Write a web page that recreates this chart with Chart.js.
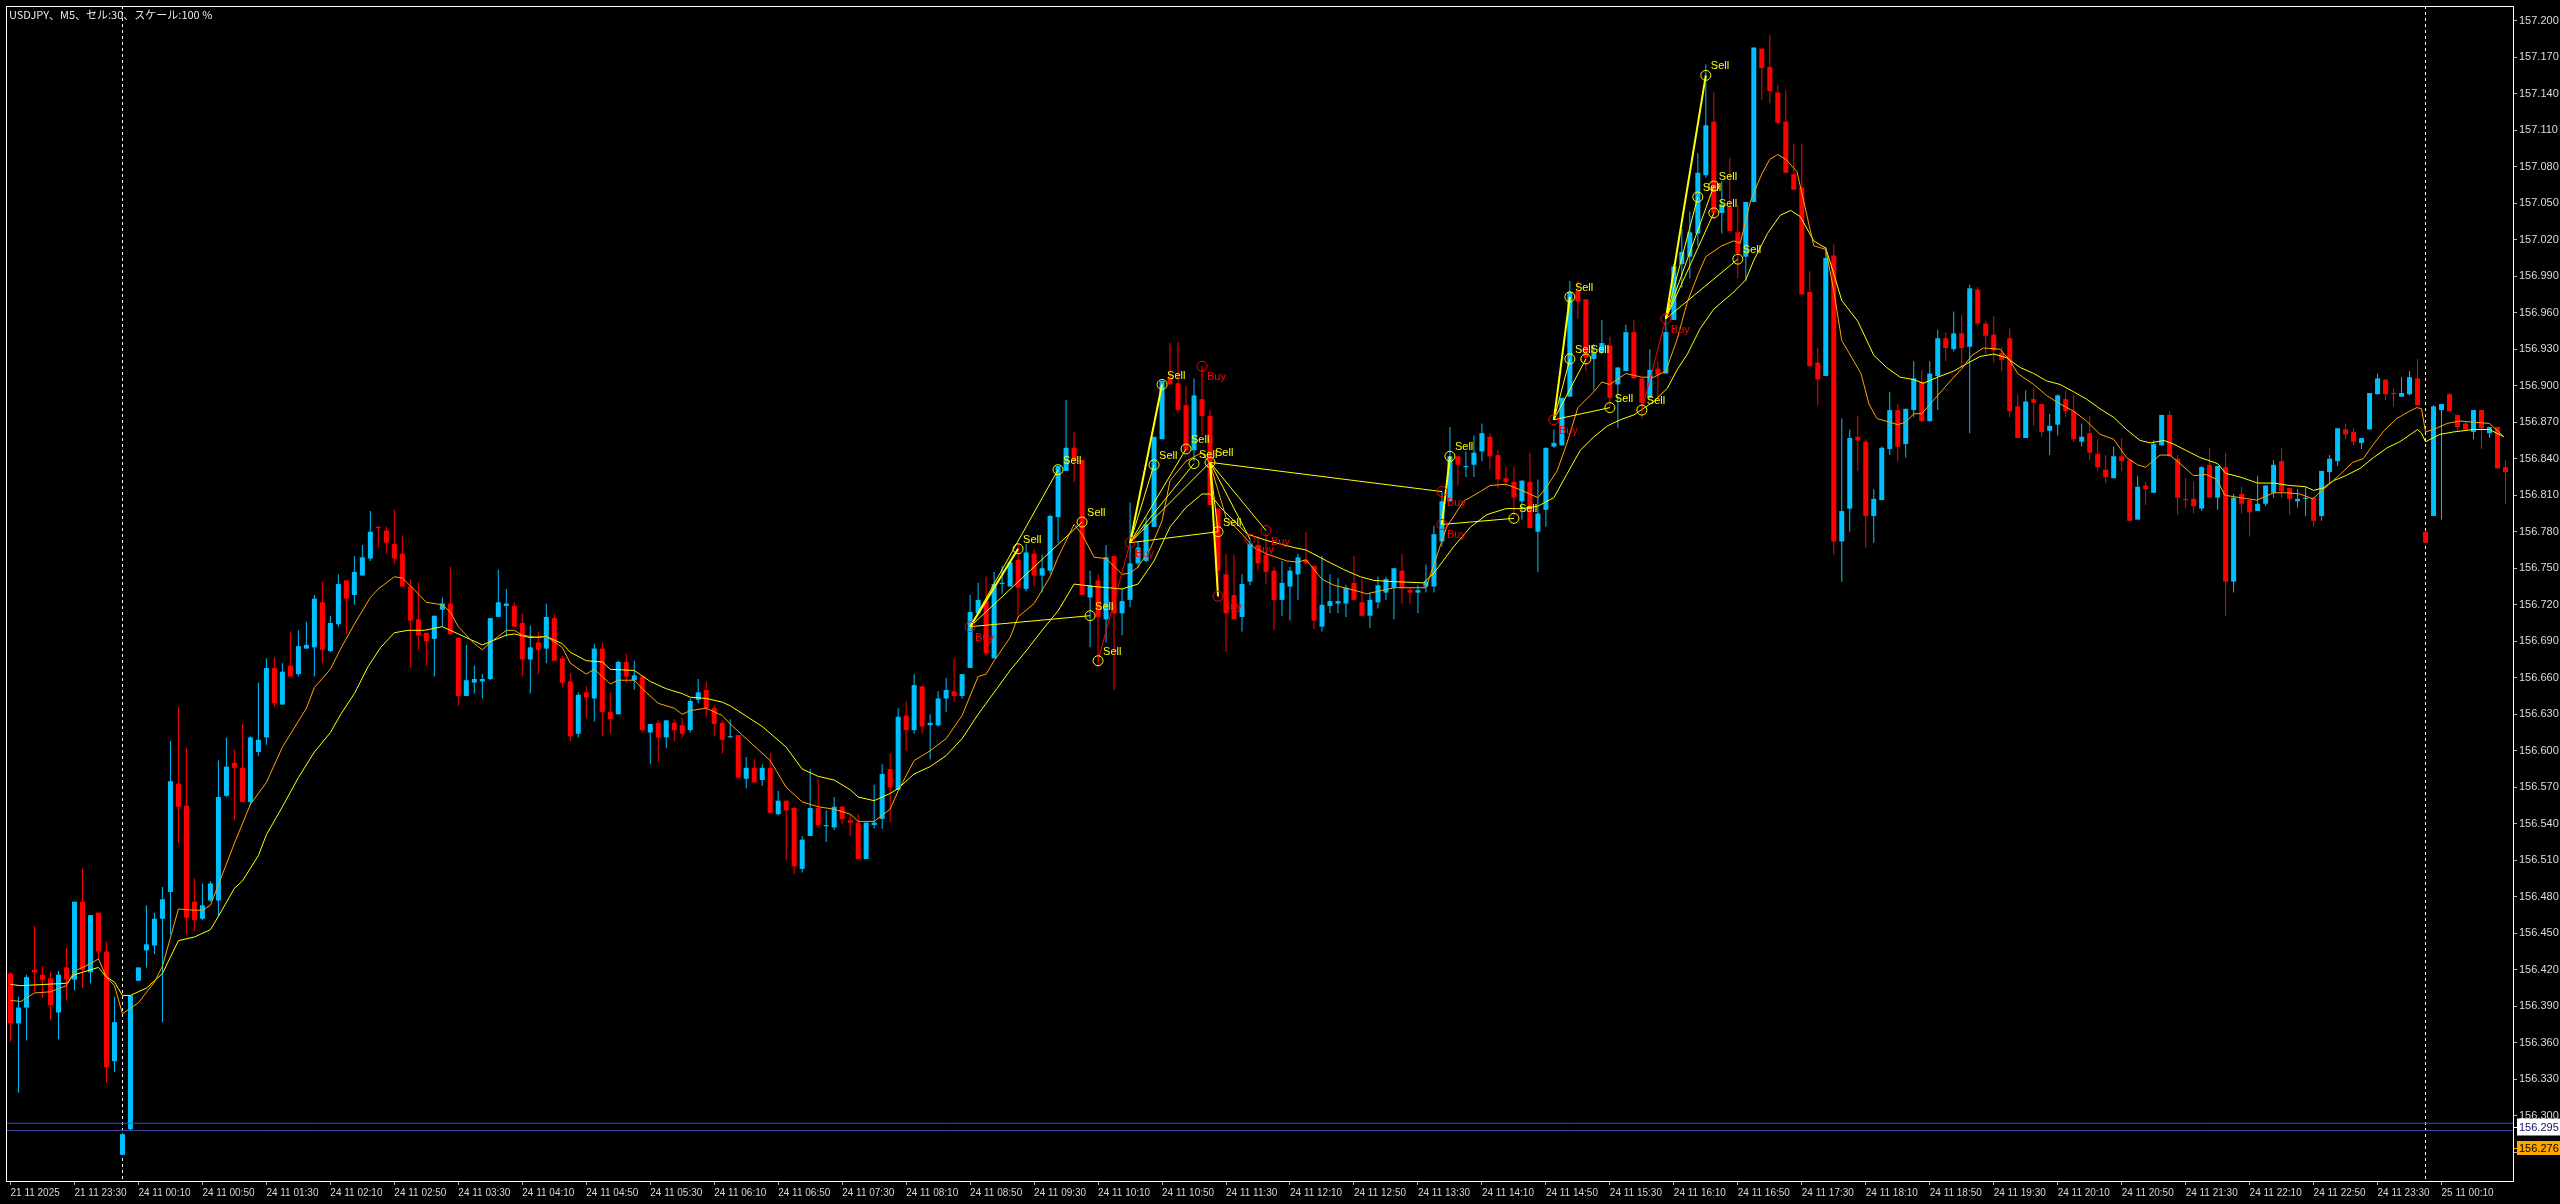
<!DOCTYPE html>
<html><head><meta charset="utf-8">
<script src="https://cdn.jsdelivr.net/npm/chart.js@4.4.1/dist/chart.umd.min.js"></script>
<style>html,body{margin:0;padding:0;background:#000;overflow:hidden}canvas{display:block}</style>
</head><body>
<canvas id="c" width="2560" height="1204" style="width:2560px;height:1204px"></canvas>
<script>
const chartTitle = 'USDJPY、M5、セル:30、スケール:100 %';

const opens = [156.417,156.376,156.389,156.420,156.416,156.413,156.385,156.422,156.412,156.476,
156.418,156.467,156.435,156.345,156.268,156.289,156.411,156.436,156.440,156.462,
156.484,156.573,156.555,156.476,156.462,156.477,156.477,156.563,156.590,156.586,
156.558,156.599,156.611,156.668,156.638,156.670,156.663,156.684,156.685,156.722,
156.682,156.704,156.740,156.728,156.744,156.758,156.784,156.781,156.770,156.762,
156.735,156.708,156.697,156.692,156.716,156.721,156.693,156.645,156.656,156.657,
156.659,156.710,156.719,156.719,156.705,156.675,156.689,156.684,156.709,156.676,
156.657,156.614,156.648,156.643,156.684,156.632,156.630,156.673,156.658,156.661,
156.615,156.623,156.611,156.623,156.621,156.617,156.642,156.650,156.635,156.623,
156.611,156.613,156.577,156.586,156.576,156.586,156.548,156.559,156.553,156.503,
156.530,156.553,156.538,156.537,156.554,156.543,156.541,156.511,156.539,156.544,
156.585,156.568,156.629,156.617,156.653,156.621,156.621,156.643,156.649,156.645,
156.668,156.713,156.723,156.676,156.737,156.735,156.757,156.733,156.762,156.744,
156.748,156.792,156.830,156.849,156.839,156.726,156.740,156.708,156.760,156.713,
156.724,156.754,156.756,156.784,156.856,156.906,156.902,156.884,156.847,156.889,
156.875,156.799,156.745,156.728,156.710,156.739,156.769,156.761,156.748,156.724,
156.735,156.745,156.757,156.752,156.702,156.719,156.721,156.721,156.738,156.722,
156.711,156.722,156.730,156.734,156.748,156.732,156.730,156.735,156.735,156.772,
156.805,156.842,156.833,156.835,156.846,156.858,156.843,156.824,156.821,156.805,
156.821,156.780,156.798,156.850,156.851,156.891,156.978,156.971,156.922,156.927,
156.933,156.901,156.912,156.944,156.906,156.890,156.914,156.910,156.954,157.000,
157.006,157.025,157.073,157.117,157.042,157.047,157.026,157.006,157.051,157.177,
157.162,157.141,157.117,157.074,157.063,156.977,156.919,156.908,157.007,156.772,
156.799,156.858,156.854,156.793,156.806,156.848,156.880,156.852,156.880,156.903,
156.871,156.908,156.939,156.930,156.943,156.932,156.979,156.951,156.942,156.927,
156.939,156.883,156.857,156.889,156.885,156.863,156.868,156.889,156.879,156.854,
156.861,156.844,156.831,156.824,156.842,156.839,156.790,156.818,156.812,156.851,
156.876,156.840,156.807,156.807,156.799,156.835,156.808,156.833,156.739,156.811,
156.806,156.797,156.803,156.812,156.838,156.816,156.805,156.807,156.808,156.793,
156.829,156.838,156.864,156.862,156.853,156.864,156.893,156.905,156.894,156.891,
156.893,156.906,156.780,156.793,156.880,156.893,156.876,156.869,156.862,156.880,
156.861,156.866,156.833];

const highs = [156.418,156.398,156.416,156.456,156.423,156.418,156.419,156.438,156.476,156.503,
156.465,156.467,156.443,156.398,156.286,156.399,156.422,156.473,156.467,156.488,
156.608,156.636,156.602,156.495,156.491,156.493,156.592,156.611,156.601,156.622,
156.612,156.656,156.676,156.677,156.672,156.698,156.699,156.706,156.728,156.739,
156.711,156.745,156.740,156.760,156.769,156.797,156.785,156.784,156.798,156.777,
156.741,156.738,156.697,156.711,156.726,156.751,156.693,156.687,156.670,156.663,
156.709,156.749,156.733,156.722,156.713,156.703,156.698,156.721,156.712,156.678,
156.664,156.648,156.653,156.688,156.689,156.648,156.674,156.680,156.674,156.661,
156.622,156.625,156.625,156.626,156.627,156.643,156.659,156.657,156.637,156.625,
156.626,156.613,156.595,156.593,156.589,156.598,156.567,156.559,156.554,156.530,
156.585,156.577,156.551,156.562,156.555,156.548,156.548,156.541,156.572,156.589,
156.598,156.635,156.641,156.663,156.653,156.630,156.649,156.660,156.676,156.663,
156.728,156.738,156.743,156.747,156.752,156.756,156.770,156.770,156.766,156.761,
156.794,156.834,156.888,156.862,156.839,156.748,156.745,156.769,156.760,156.733,
156.804,156.772,156.792,156.858,156.904,156.935,156.936,156.900,156.906,156.916,
156.880,156.799,156.762,156.761,156.745,156.774,156.776,156.778,156.751,156.756,
156.751,156.762,156.780,156.752,156.760,156.745,156.742,156.736,156.760,156.741,
156.730,156.743,156.743,156.750,156.762,156.734,156.736,156.753,156.785,156.813,
156.866,156.842,156.846,156.859,156.869,156.861,156.847,156.833,156.833,156.822,
156.845,156.823,156.849,156.864,156.890,156.986,156.986,156.971,156.934,156.954,
156.940,156.915,156.950,156.954,156.906,156.930,156.920,156.955,157.000,157.029,
157.043,157.091,157.164,157.141,157.068,157.087,157.048,157.051,157.178,157.177,
157.188,157.147,157.143,157.099,157.099,156.994,156.931,157.014,157.016,156.873,
156.864,156.875,156.856,156.815,156.850,156.895,156.885,156.881,156.920,156.913,
156.920,156.946,156.944,156.961,156.958,156.983,156.981,156.953,156.957,156.932,
156.947,156.893,156.896,156.898,156.885,156.877,156.893,156.896,156.893,156.869,
156.875,156.856,156.843,156.850,156.857,156.839,156.826,156.821,156.855,156.876,
156.879,156.843,156.824,156.821,156.834,156.849,156.834,156.845,156.811,156.817,
156.806,156.826,156.818,156.839,156.849,156.816,156.815,156.817,156.808,156.830,
156.843,156.865,156.869,156.865,156.857,156.894,156.910,156.905,156.898,156.907,
156.912,156.922,156.780,156.884,156.885,156.894,156.876,156.871,156.880,156.880,
156.866,156.866,156.839];

const lows = [156.361,156.319,156.362,156.402,156.397,156.379,156.363,156.395,156.403,156.405,
156.409,156.428,156.327,156.336,156.268,156.288,156.411,156.422,156.433,156.377,
156.449,156.524,156.449,156.452,156.461,156.476,156.464,156.562,156.543,156.558,
156.555,156.596,156.605,156.636,156.638,156.661,156.661,156.684,156.661,156.672,
156.681,156.702,156.696,156.720,156.744,156.756,156.767,156.762,156.754,156.735,
156.668,156.683,156.670,156.661,156.702,156.695,156.637,156.645,156.647,156.643,
156.658,156.710,156.694,156.702,156.661,156.647,156.663,156.672,156.674,156.652,
156.608,156.611,156.627,156.624,156.612,156.614,156.630,156.656,156.650,156.615,
156.589,156.591,156.602,156.608,156.611,156.615,156.639,156.628,156.612,156.598,
156.611,156.577,156.569,156.574,156.571,156.549,156.547,156.510,156.499,156.500,
156.530,156.537,156.525,156.535,156.540,156.530,156.511,156.511,156.536,156.536,
156.541,156.568,156.600,156.614,156.614,156.593,156.620,156.632,156.640,156.643,
156.668,156.713,156.678,156.676,156.729,156.735,156.709,156.731,156.735,156.730,
156.745,156.771,156.830,156.821,156.728,156.685,156.669,156.689,156.650,156.695,
156.718,156.750,156.755,156.784,156.856,156.901,156.878,156.845,156.838,156.859,
156.802,156.726,156.681,156.708,156.698,156.736,156.748,156.737,156.699,156.711,
156.707,156.724,156.754,156.700,156.698,156.713,156.713,156.710,156.724,156.711,
156.701,156.717,156.724,156.708,156.721,156.721,156.713,156.730,156.730,156.768,
156.805,156.818,156.825,156.825,156.838,156.831,156.816,156.817,156.793,156.790,
156.783,156.747,156.784,156.849,156.851,156.891,156.955,156.912,156.896,156.926,
156.883,156.865,156.912,156.906,156.873,156.890,156.890,156.910,156.954,156.980,
156.988,157.015,157.071,157.037,157.025,157.027,156.988,156.986,157.051,157.135,
157.132,157.115,157.075,157.061,156.975,156.916,156.884,156.908,156.761,156.739,
156.780,156.830,156.767,156.771,156.806,156.843,156.838,156.841,156.874,156.870,
156.870,156.880,156.920,156.928,156.915,156.861,156.949,156.926,156.919,156.912,
156.874,156.857,156.857,156.867,156.858,156.843,156.859,156.874,156.854,156.850,
156.839,156.830,156.820,156.824,156.830,156.789,156.790,156.802,156.812,156.851,
156.842,156.794,156.799,156.795,156.797,156.808,156.798,156.711,156.730,156.795,
156.776,156.797,156.801,156.808,156.808,156.794,156.800,156.793,156.784,156.789,
156.819,156.834,156.856,156.851,156.848,156.864,156.893,156.888,156.883,156.891,
156.892,156.884,156.771,156.793,156.790,156.879,156.863,156.863,156.856,156.848,
156.857,156.832,156.803];

const closes = [156.376,156.389,156.414,156.418,156.412,156.391,156.416,156.412,156.476,156.420,
156.465,156.435,156.340,156.377,156.285,156.399,156.422,156.441,156.462,156.478,
156.575,156.554,156.463,156.461,156.473,156.491,156.562,156.587,156.586,156.558,
156.611,156.609,156.668,156.639,156.665,156.661,156.686,156.687,156.725,156.683,
156.705,156.737,156.725,156.747,156.759,156.780,156.783,156.771,156.758,156.735,
156.707,156.695,156.690,156.711,156.721,156.696,156.645,156.658,156.659,156.659,
156.709,156.722,156.721,156.702,156.675,156.685,156.683,156.710,156.674,156.656,
156.612,156.646,156.644,156.684,156.632,156.626,156.673,156.661,156.662,156.617,
156.622,156.611,156.625,156.617,156.614,156.641,156.648,156.635,156.622,156.609,
156.612,156.578,156.586,156.574,156.586,156.549,156.559,156.551,156.505,156.527,
156.553,156.539,156.539,156.554,156.544,156.541,156.511,156.541,156.541,156.581,
156.570,156.628,156.617,156.654,156.620,156.623,156.643,156.650,156.645,156.663,
156.714,156.724,156.680,156.737,156.738,156.755,156.734,156.763,156.744,156.750,
156.793,156.834,156.849,156.839,156.728,156.736,156.710,156.759,156.713,156.723,
156.754,156.767,156.786,156.858,156.904,156.901,156.880,156.847,156.892,156.875,
156.802,156.748,156.713,156.708,156.737,156.770,156.754,156.747,156.724,156.738,
156.748,156.759,156.754,156.707,156.720,156.723,156.723,156.734,156.724,156.711,
156.724,156.736,156.741,156.750,156.734,156.730,156.732,156.739,156.778,156.805,
156.842,156.835,156.834,156.845,156.861,156.842,156.823,156.821,156.808,156.822,
156.783,156.795,156.849,156.853,156.890,156.977,156.969,156.923,156.927,156.935,
156.890,156.915,156.944,156.906,156.886,156.913,156.909,156.944,156.998,157.010,
157.026,157.075,157.114,157.042,157.049,157.027,157.009,157.051,157.178,157.161,
157.142,157.116,157.075,157.061,156.975,156.916,156.905,157.005,156.772,156.797,
156.857,156.855,156.793,156.807,156.849,156.880,156.850,156.881,156.906,156.871,
156.910,156.939,156.931,156.943,156.931,156.980,156.951,156.941,156.929,156.921,
156.879,156.857,156.887,156.886,156.862,156.867,156.892,156.879,156.856,156.858,
156.845,156.833,156.825,156.842,156.838,156.789,156.817,156.815,156.852,156.876,
156.842,156.808,156.806,156.801,156.833,156.808,156.834,156.739,156.808,156.803,
156.796,156.803,156.818,156.835,156.813,156.807,156.807,156.808,156.789,156.830,
156.840,156.865,156.860,156.854,156.857,156.894,156.906,156.893,156.893,156.894,
156.907,156.884,156.771,156.883,156.885,156.879,156.866,156.864,156.880,156.865,
156.866,156.832,156.829];

// moving averages: [bar index, price]
const maFast = [[0,156.395],[1.3,156.394],[3,156.401],[5,156.402],[7,156.407],[8,156.419],[10,156.425],[11,156.429],[12,156.414],[13,156.407],[14,156.384],[16,156.393],[18,156.410],[19,156.423],[21,156.470],[23,156.469],[24,156.469],[25,156.473],[26,156.490],[28,156.524],[30,156.556],[32,156.574],[34,156.603],[37,156.635],[38,156.652],[40,156.667],[41.3,156.684],[43,156.704],[45,156.726],[46,156.733],[48,156.743],[49,156.742],[51,156.729],[52,156.722],[54,156.720],[55,156.714],[56,156.702],[58,156.688],[59,156.683],[60,156.689],[62,156.699],[63,156.699],[64,156.695],[66,156.693],[67,156.694],[69,156.685],[70,156.672],[72,156.663],[73,156.667],[75,156.655],[76,156.658],[78,156.658],[79,156.651],[81,156.639],[83,156.635],[84,156.630],[85,156.633],[87,156.635],[89,156.629],[90,156.622],[93,156.604],[95,156.592],[97,156.570],[99,156.558],[101,156.554],[103,156.552],[105,156.548],[106,156.542],[108,156.542],[109,156.547],[110,156.552],[111,156.567],[113,156.592],[115,156.600],[117,156.610],[119,156.629],[121,156.661],[122,156.663],[123,156.674],[125,156.693],[126,156.710],[128,156.721],[130,156.743],[131,156.759],[133,156.786],[134,156.778],[135.5,156.759],[137,156.758],[139,156.745],[140,156.746],[141,156.751],[142.6,156.767],[144,156.789],[145,156.822],[147,156.838],[149,156.845],[150,156.836],[151,156.814],[152,156.792],[154,156.778],[155.5,156.767],[157,156.762],[159.6,156.756],[161,156.755],[162,156.757],[164,156.741],[165.5,156.736],[168,156.732],[169.6,156.729],[171,156.731],[173,156.734],[177,156.734],[178,156.753],[179.6,156.784],[181.7,156.805],[183.8,156.813],[185,156.818],[187,156.819],[189,156.814],[191,156.808],[192,156.816],[193.4,156.830],[194.6,156.852],[196,156.882],[198,156.895],[199,156.903],[200,156.901],[202,156.910],[204,156.907],[205.5,156.907],[207,156.912],[208.4,156.938],[209.7,156.969],[211,156.991],[212,157.006],[214,157.015],[215.5,157.019],[216.3,157.017],[217.6,157.052],[219,157.074],[220,157.086],[221,157.090],[222,157.086],[223.4,157.076],[225.5,157.015],[227,157.012],[228,156.978],[229,156.937],[230,156.926],[231.4,156.910],[232.4,156.885],[233.4,156.873],[235,156.870],[236,156.868],[237,156.870],[238,156.877],[239,156.877],[241,156.892],[242.6,156.904],[244,156.914],[245.3,156.925],[246.7,156.931],[248.8,156.930],[250,156.921],[251,156.910],[253,156.901],[254.6,156.892],[256.3,156.885],[258,156.879],[259.6,156.871],[261.3,156.860],[263,156.856],[264.6,156.841],[266,156.835],[267,156.833],[268.8,156.843],[270,156.843],[271.3,156.836],[273,156.826],[274.6,156.827],[275.9,156.823],[276.9,156.810],[278.8,156.808],[280.9,156.806],[283,156.812],[284.6,156.812],[286.3,156.811],[287.9,156.807],[289.6,156.817],[291.3,156.827],[292.9,156.837],[294.2,156.840],[295.5,156.852],[296.8,156.863],[298.4,156.873],[299.7,156.878],[300.9,156.882],[301.5,156.881],[302,156.862],[303,156.864],[304.7,156.869],[306.3,156.871],[308,156.870],[310,156.869],[311.8,156.858]];

const maSlow = [[0,156.408],[1.3,156.407],[7,156.409],[8,156.416],[11,156.422],[12,156.414],[13,156.410],[14,156.399],[15,156.399],[17,156.405],[19,156.417],[21,156.444],[23,156.447],[25,156.453],[26,156.464],[28,156.487],[29,156.493],[31,156.514],[32,156.531],[34,156.554],[36,156.578],[38,156.599],[40,156.615],[41.3,156.630],[43,156.647],[44.7,156.669],[46.3,156.685],[48,156.697],[49.7,156.699],[51.8,156.699],[54,156.702],[56,156.696],[59,156.687],[62,156.695],[63,156.696],[65,156.693],[67,156.694],[69,156.688],[70,156.681],[72,156.674],[74,156.673],[75,156.667],[78,156.666],[80,156.657],[82,156.651],[84,156.647],[85,156.644],[87,156.643],[89,156.640],[90,156.637],[94,156.620],[97,156.603],[99,156.585],[101,156.579],[103,156.576],[105,156.568],[106,156.562],[108,156.559],[110,156.565],[111,156.569],[113,156.581],[115,156.587],[117,156.596],[119,156.610],[121,156.630],[123,156.648],[125,156.666],[127,156.682],[129,156.699],[131,156.715],[133,156.737],[135.5,156.735],[139,156.733],[141,156.737],[143,156.756],[145,156.784],[147,156.800],[149,156.811],[150,156.811],[151.3,156.800],[153,156.789],[154.7,156.778],[157,156.773],[160.5,156.767],[162,156.765],[164.6,156.756],[166.7,156.749],[168.8,156.743],[170.5,156.740],[173,156.739],[176.7,156.738],[178,156.746],[180.5,156.768],[182.6,156.784],[184.6,156.794],[187,156.799],[189,156.799],[191,156.801],[193,156.808],[194.6,156.827],[196.3,156.847],[198,156.858],[199.7,156.867],[201.3,156.872],[203,156.876],[205.5,156.887],[207.2,156.898],[208.4,156.913],[209.7,156.926],[211.3,156.947],[213,156.963],[215.5,156.977],[217,156.987],[218,157.003],[219.7,157.025],[221.3,157.040],[222.6,157.044],[223.8,157.039],[225.5,157.019],[227,157.013],[228,156.992],[229,156.970],[231,156.953],[233,156.925],[234.6,156.915],[236.3,156.907],[238,156.905],[239.2,156.902],[241,156.907],[243,156.912],[244.6,156.918],[246.3,156.924],[248,156.926],[249.6,156.923],[251.3,156.915],[253,156.910],[254.6,156.904],[256.3,156.901],[258,156.895],[259.6,156.889],[261.3,156.881],[263,156.874],[264.6,156.864],[266.3,156.855],[267.6,156.853],[269.3,156.855],[270.5,156.852],[272,156.847],[273.8,156.841],[276,156.836],[277,156.828],[278.8,156.825],[281,156.820],[283,156.820],[285,156.818],[287,156.817],[288,156.814],[289.2,156.816],[290.5,156.822],[292,156.826],[293.8,156.832],[295.5,156.841],[297.2,156.849],[298.8,156.854],[301,156.864],[301.5,156.861],[302,156.854],[303.8,156.860],[305.5,156.862],[308,156.864],[310,156.864],[311.8,156.858]];

// signal markers [bar index, price]
const sellMarks = [[126,156.766],[131,156.831],[134,156.788],[135,156.711],[136,156.674],[143,156.835],[144,156.901],[147,156.848],[148,156.836],[150,156.837],[151,156.780],[180,156.842],[188,156.791],[195,156.973],[195,156.922],[197,156.922],[200,156.882],[204,156.880],[211,157.055],[212,157.155],[213,157.064],[213,157.042],[216,157.004]];
const buyMarks = [[120,156.702],[140,156.771],[149,156.916],[151,156.727],[155,156.774],[157,156.781],[179,156.813],[179,156.786],[193,156.872],[207,156.955]];

// signal links [fromIdx, fromPrice, toIdx, toPrice]
const yellowLinks = [[120,156.702,131,156.831],[120,156.702,134,156.788],[120,156.702,135,156.711],[140,156.771,143,156.835],[140,156.771,147,156.848],[140,156.771,148,156.836],[140,156.771,150,156.837],[140,156.771,151,156.780],[150,156.837,151,156.780],[150,156.837,155,156.774],[150,156.837,157,156.781],[150,156.837,179,156.813],[179,156.786,188,156.791],[193,156.872,195,156.922],[193,156.872,197,156.922],[193,156.872,200,156.882],[207,156.955,211,157.055],[207,156.955,213,157.064],[207,156.955,213,157.042],[207,156.955,216,157.004]];
const yellowThickLinks = [[120,156.702,126,156.766],[140,156.771,144,156.901],[150,156.837,151,156.727],[179,156.786,180,156.842],[193,156.872,195,156.973],[207,156.955,212,157.155]];
const redLinks = [[136,156.674,140,156.771],[204,156.880,207,156.955]];

const priceLines = [156.294, 156.288];
const daySeparators = [14, 302];
const priceTags = [[156.291,'156.295'],[156.274,'156.276']];

const xTickIdx = [0,8,16,24,32,40,48,56,64,72,80,88,96,104,112,120,128,136,144,152,160,168,176,184,192,200,208,216,224,232,240,248,256,264,272,280,288,296,304];
const xTickLabels = ['21 11 2025','21 11 23:30','24 11 00:10','24 11 00:50','24 11 01:30','24 11 02:10','24 11 02:50','24 11 03:30','24 11 04:10','24 11 04:50','24 11 05:30','24 11 06:10','24 11 06:50','24 11 07:30','24 11 08:10','24 11 08:50','24 11 09:30','24 11 10:10','24 11 10:50','24 11 11:30','24 11 12:10','24 11 12:50','24 11 13:30','24 11 14:10','24 11 14:50','24 11 15:30','24 11 16:10','24 11 16:50','24 11 17:30','24 11 18:10','24 11 18:50','24 11 19:30','24 11 20:10','24 11 20:50','24 11 21:30','24 11 22:10','24 11 22:50','24 11 23:30','25 11 00:10'];
const yTicks = [157.200,157.170,157.140,157.110,157.080,157.050,157.020,156.990,156.960,156.930,156.900,156.870,156.840,156.810,156.780,156.750,156.720,156.690,156.660,156.630,156.600,156.570,156.540,156.510,156.480,156.450,156.420,156.390,156.360,156.330,156.300,156.270];

// ---------- layout / style ----------
const X_MIN = -0.5625, X_MAX = 313.0625;
const Y_MIN = 156.2465, Y_MAX = 157.212;
const BULL = '#00bfff', BEAR = '#ff0000';
const FONT = '"Liberation Sans", Arial, sans-serif';
const colors = opens.map((o, i) => closes[i] >= o ? BULL : BEAR);

const wickData = opens.map((_, i) => ({x: i, y: [lows[i], highs[i]]}));
const bodyData = opens.map((o, i) => ({x: i, y: [o, closes[i]]}));

const datasets = [];
datasets.push({type:'bar', data: wickData, backgroundColor: colors, barThickness: 1, grouped:false, borderWidth:0, inflateAmount:0, minBarLength:1, order: 10});
datasets.push({type:'bar', data: bodyData, backgroundColor: colors, barThickness: 5, grouped:false, borderWidth:0, inflateAmount:0, minBarLength:1, order: 9});
priceLines.forEach(v => datasets.push({type:'line', data:[{x:X_MIN,y:v},{x:X_MAX,y:v}], borderColor:'#4646aa', borderWidth:1, pointRadius:0, order:8}));
datasets.push({type:'line', data: maSlow.map(([x,y])=>({x,y})), borderColor:'#ffff00', borderWidth:1, pointRadius:0, tension:0, order:6});
datasets.push({type:'line', data: maFast.map(([x,y])=>({x,y})), borderColor:'#ffa500', borderWidth:1, pointRadius:0, tension:0, order:5});
const linkSet = (arr, color, w) => arr.forEach(([a,b,c,d]) => datasets.push({type:'line', data:[{x:a,y:b},{x:c,y:d}], borderColor:color, borderWidth:w, pointRadius:0, order:3}));
linkSet(yellowLinks, '#ffff00', 1);
linkSet(yellowThickLinks, '#ffff00', 2);
linkSet(redLinks, '#ff0000', 1);
datasets.push({type:'line', showLine:false, data: sellMarks.map(([x,y])=>({x,y})), pointRadius:5, pointBorderWidth:1, pointBorderColor:'#ffff00', pointBackgroundColor:'rgba(0,0,0,0)', order:1});
datasets.push({type:'line', showLine:false, data: buyMarks.map(([x,y])=>({x,y})), pointRadius:5, pointBorderWidth:1, pointBorderColor:'#ff0000', pointBackgroundColor:'rgba(0,0,0,0)', order:1});

const overlay = {
  id: 'overlay',
  beforeDraw(chart) {
    const {ctx, width, height} = chart;
    ctx.save(); ctx.fillStyle = '#000'; ctx.fillRect(0, 0, width, height); ctx.restore();
  },
  beforeDatasetsDraw(chart) {
    const {ctx, chartArea: a, scales: {x}} = chart;
    ctx.save();
    ctx.strokeStyle = '#ffffff'; ctx.lineWidth = 1; ctx.setLineDash([3, 3]);
    daySeparators.forEach(d => {
      const px = Math.floor(x.getPixelForValue(d)) + 0.5;
      ctx.beginPath(); ctx.moveTo(px, a.top); ctx.lineTo(px, a.bottom); ctx.stroke();
    });
    ctx.restore();
  },
  afterDatasetsDraw(chart) {
    const {ctx, chartArea: a, scales: {x, y}} = chart;
    ctx.save();
    ctx.beginPath(); ctx.rect(a.left, a.top, a.right - a.left, a.bottom - a.top); ctx.clip();
    ctx.font = '11px ' + FONT; ctx.textBaseline = 'middle'; ctx.textAlign = 'left';
    ctx.fillStyle = '#ffff00';
    sellMarks.forEach(([i, p]) => ctx.fillText('Sell', x.getPixelForValue(i) + 5, y.getPixelForValue(p) - 9));
    ctx.fillStyle = '#ff0000';
    buyMarks.forEach(([i, p]) => ctx.fillText('Buy', x.getPixelForValue(i) + 5, y.getPixelForValue(p) + 11));
    ctx.restore();
  },
  afterDraw(chart) {
    const {ctx, chartArea: a, scales: {y}, width} = chart;
    ctx.save();
    ctx.strokeStyle = '#ffffff'; ctx.lineWidth = 1;
    ctx.strokeRect(a.left + 0.5, a.top + 0.5, a.right - a.left - 1, a.bottom - a.top);
    // title
    ctx.font = '11px "Noto Sans CJK JP", sans-serif';
    ctx.fillStyle = '#e4e8f0'; ctx.textBaseline = 'middle'; ctx.textAlign = 'left';
    ctx.fillText(chartTitle, 9, 15);
    // price tags
    ctx.font = '11px ' + FONT;
    priceTags.forEach(([v, t], k) => {
      const py = Math.round(y.getPixelForValue(v));
      const bg = k === 0 ? '#ffffff' : '#ffa500';
      const fg = k === 0 ? '#10106a' : '#000000';
      const h = k === 0 ? 17 : 14;
      ctx.fillStyle = bg;
      ctx.fillRect(a.right + 3, py - h / 2, width - a.right - 3, h);
      ctx.fillRect(a.right, py, 4, 1);
      ctx.fillStyle = fg;
      ctx.fillText(t, a.right + 5, py + 0.5);
    });
    ctx.restore();
  }
};

new Chart(document.getElementById('c'), {
  type: 'bar',
  data: { datasets },
  plugins: [overlay],
  options: {
    responsive: false, animation: false, events: [],
    layout: { padding: { left: 5, top: 5, right: 0, bottom: 0 } },
    plugins: { legend: {display: false}, tooltip: {enabled: false}, title: {display: false} },
    scales: {
      x: {
        type: 'linear', min: X_MIN, max: X_MAX, offset: false,
        afterBuildTicks: s => { s.ticks = xTickIdx.map(v => ({value: v})); },
        afterFit: s => { s.height = 23; },
        grid: { display: true, drawOnChartArea: false, drawTicks: true, tickLength: 4, color: '#b4b4b4', offset: false },
        border: { display: false },
        ticks: { align: 'start', autoSkip: false, maxRotation: 0, minRotation: 0, padding: 2, color: '#d8d8d8',
          font: { family: FONT, size: 10 },
          callback: v => { const k = xTickIdx.indexOf(v); return k >= 0 ? xTickLabels[k] : ''; } }
      },
      y: {
        type: 'linear', position: 'right', min: Y_MIN, max: Y_MAX, beginAtZero: false,
        afterBuildTicks: s => { s.ticks = yTicks.map(v => ({value: v})); },
        afterFit: s => { s.width = 46; },
        grid: { display: true, drawOnChartArea: false, drawTicks: true, tickLength: 3, color: '#b4b4c8' },
        border: { display: false },
        ticks: { padding: 2, color: '#dcdcdc', font: { family: FONT, size: 11, lineHeight: 0.6 },
          callback: v => Number(v).toFixed(3) }
      }
    }
  }
});
</script>
</body></html>
